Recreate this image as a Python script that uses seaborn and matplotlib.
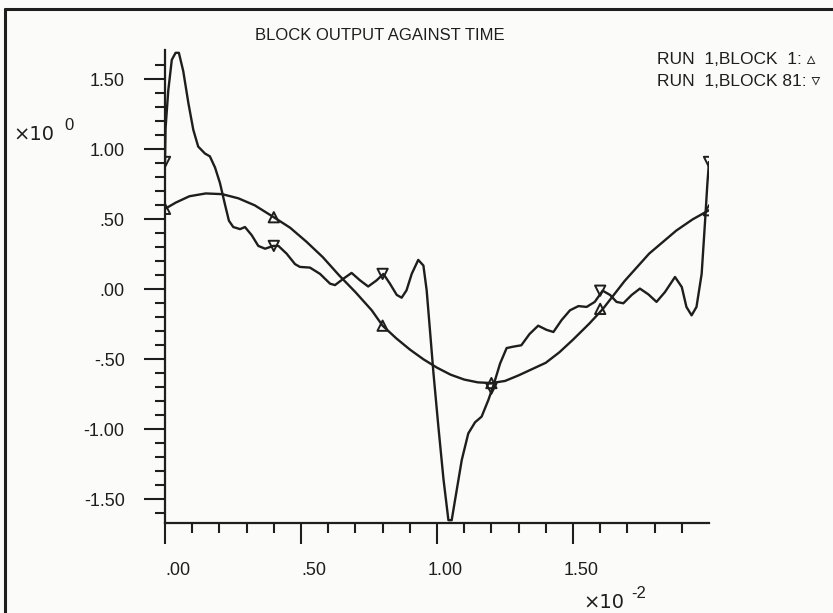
import matplotlib
matplotlib.use("Agg")
import matplotlib.pyplot as plt
import matplotlib.transforms as mtransforms
from matplotlib.lines import Line2D
import seaborn as sns

# block 1: smooth response (time in units of 1e-2)
t_block1 = [0.000, 0.04, 0.09, 0.15, 0.21, 0.27, 0.33, 0.40, 0.46, 0.52,
            0.58, 0.64, 0.70, 0.76, 0.80, 0.85, 0.90, 0.95, 1.00, 1.05,
            1.10, 1.15, 1.20, 1.25, 1.30, 1.35, 1.40, 1.45, 1.50, 1.56,
            1.61, 1.69, 1.78, 1.88, 1.94, 2.00]
y_block1 = [0.575, 0.62, 0.665, 0.685, 0.68, 0.65, 0.60, 0.515, 0.44, 0.34,
            0.23, 0.10, -0.02, -0.15, -0.26, -0.35, -0.43, -0.50, -0.56, -0.61,
            -0.645, -0.665, -0.67, -0.655, -0.615, -0.57, -0.525, -0.45, -0.36, -0.245,
            -0.14, 0.06, 0.255, 0.42, 0.50, 0.565]

# block 81: oscillating response
t_block81 = [0.000, 0.002, 0.012, 0.025, 0.039, 0.051, 0.067, 0.086, 0.104, 0.122,
             0.147, 0.165, 0.184, 0.202, 0.220, 0.235, 0.251, 0.276, 0.294, 0.319,
             0.343, 0.368, 0.398, 0.417, 0.447, 0.478, 0.496, 0.533, 0.570, 0.607,
             0.625, 0.656, 0.686, 0.717, 0.747, 0.778, 0.803, 0.827, 0.852, 0.870,
             0.888, 0.907, 0.931, 0.950, 0.962, 0.974, 0.987, 1.005, 1.024, 1.042,
             1.054, 1.066, 1.091, 1.115, 1.140, 1.164, 1.189, 1.207, 1.232, 1.256,
             1.280, 1.310, 1.340, 1.372, 1.403, 1.428, 1.458, 1.489, 1.520, 1.550,
             1.580, 1.609, 1.636, 1.660, 1.685, 1.716, 1.746, 1.777, 1.807, 1.838,
             1.875, 1.900, 1.917, 1.936, 1.954, 1.973, 1.985, 1.994, 2.000]
y_block81 = [0.91, 1.15, 1.42, 1.64, 1.69, 1.69, 1.56, 1.33, 1.14, 1.02,
             0.97, 0.95, 0.87, 0.76, 0.61, 0.49, 0.445, 0.43, 0.445, 0.386,
             0.31, 0.29, 0.31, 0.31, 0.255, 0.18, 0.16, 0.155, 0.11, 0.04,
             0.03, 0.076, 0.117, 0.064, 0.02, 0.064, 0.11, 0.04, -0.04, -0.06,
             -0.007, 0.11, 0.21, 0.17, -0.007, -0.29, -0.60, -0.98, -1.36, -1.65,
             -1.65, -1.51, -1.22, -1.03, -0.95, -0.91, -0.79, -0.69, -0.53, -0.42,
             -0.41, -0.40, -0.32, -0.26, -0.29, -0.305, -0.22, -0.15, -0.12, -0.126,
             -0.09, -0.01, -0.04, -0.09, -0.10, -0.04, 0.005, -0.036, -0.09, -0.02,
             0.088, 0.016, -0.126, -0.186, -0.126, 0.11, 0.47, 0.755, 0.91]

# marker samples every 0.4
t_marks = [0.0, 0.4, 0.8, 1.2, 1.6, 2.0]
block1_marks = [0.575, 0.515, -0.26, -0.67, -0.14, 0.565]
block81_marks = [0.91, 0.31, 0.11, -0.71, -0.01, 0.91]

x_major = [0.0, 0.5, 1.0, 1.5]
x_major_labels = [".00", ".50", "1.00", "1.50"]
y_major = [-1.5, -1.0, -0.5, 0.0, 0.5, 1.0, 1.5]
y_major_labels = ["-1.50", "-1.00", "-.50", ".00", ".50", "1.00", "1.50"]

INK = "#1e1e1e"
PAPER = "#fbfbfa"
FS = 13

sns.set_theme(style="white")
plt.rcParams["font.family"] = ["Liberation Sans", "DejaVu Sans"]

W, H = 833, 613
fig = plt.figure(figsize=(W / 100, H / 100), dpi=100, facecolor=PAPER)
ax = fig.add_axes([165 / W, 1 - 523 / H, 544 / W, 473 / H])
ax.set_facecolor("none")

sns.lineplot(x=t_block1, y=y_block1, ax=ax, color=INK, lw=1.7,
             estimator=None, sort=False)
sns.lineplot(x=t_block81, y=y_block81, ax=ax, color=INK, lw=1.7,
             estimator=None, sort=False)
for ys, mk in [(block1_marks, "^"), (block81_marks, "v")]:
    sns.scatterplot(x=t_marks, y=ys, ax=ax, marker=mk, s=55, zorder=3)
    pts = ax.collections[-1]
    pts.set_facecolor("none")
    pts.set_edgecolor(INK)
    pts.set_linewidth(1.4)

ax.set_xlim(0, 2.0)
ax.set_ylim(-1.67, 1.71)
ax.set_xlabel("")
ax.set_ylabel("")

ax.set_xticks(x_major)
ax.set_xticklabels(x_major_labels)
ax.set_xticks([v / 10 for v in range(1, 20) if v % 5], minor=True)
ax.set_yticks(y_major)
ax.set_yticklabels(y_major_labels)
ax.set_yticks([v / 10 for v in range(-16, 17) if v % 5], minor=True)

ax.tick_params(which="both", direction="out", color=INK, width=1.5,
               bottom=True, left=True, labelcolor=INK, labelsize=FS)
ax.tick_params(which="major", length=15)
ax.tick_params(which="minor", length=7.5)
ax.tick_params(axis="x", which="major", pad=13)
ax.tick_params(axis="y", which="major", pad=14)

# decimal point of each x label sits on its tick
for lab in ax.get_xticklabels():
    lab.set_ha("left")
    if lab.get_text().startswith("1"):
        shift = mtransforms.ScaledTranslation(-7.0 / 72, 0, fig.dpi_scale_trans)
        lab.set_transform(lab.get_transform() + shift)

for side in ["top", "right"]:
    ax.spines[side].set_visible(False)
for side in ["left", "bottom"]:
    ax.spines[side].set_color(INK)
    ax.spines[side].set_linewidth(1.6)

# plotter annotations
fig.text(380 / W, 1 - 35 / H, "BLOCK OUTPUT AGAINST TIME", ha="center",
         va="center", fontsize=12, color=INK)
fig.text(657 / W, 1 - 60 / H, "RUN  1,BLOCK  1: \u25b5", ha="left",
         va="center", fontsize=12.5, color=INK)
fig.text(657 / W, 1 - 82 / H, "RUN  1,BLOCK 81: \u25bf", ha="left",
         va="center", fontsize=12.5, color=INK)

# axis multipliers
fig.text(13 / W, 1 - 134 / H, "\u00d710", ha="left", va="center",
         fontsize=14, color=INK, family="DejaVu Sans")
fig.text(64 / W, 1 - 126 / H, "0", ha="left", va="center",
         fontsize=12, color=INK)
fig.text(583 / W, 1 - 602 / H, "\u00d710", ha="left", va="center",
         fontsize=14, color=INK, family="DejaVu Sans")
fig.text(631 / W, 1 - 593 / H, "-2", ha="left", va="center",
         fontsize=12, color=INK)

# frame of the plotter sheet
fig.add_artist(Line2D([5 / W, 5 / W], [0, 1 - 9 / H], transform=fig.transFigure,
                      color=INK, lw=2.2))
fig.add_artist(Line2D([5 / W, 1], [1 - 9 / H, 1 - 9 / H], transform=fig.transFigure,
                      color=INK, lw=2.2))

fig.savefig("out.png", dpi=100, facecolor=PAPER)
